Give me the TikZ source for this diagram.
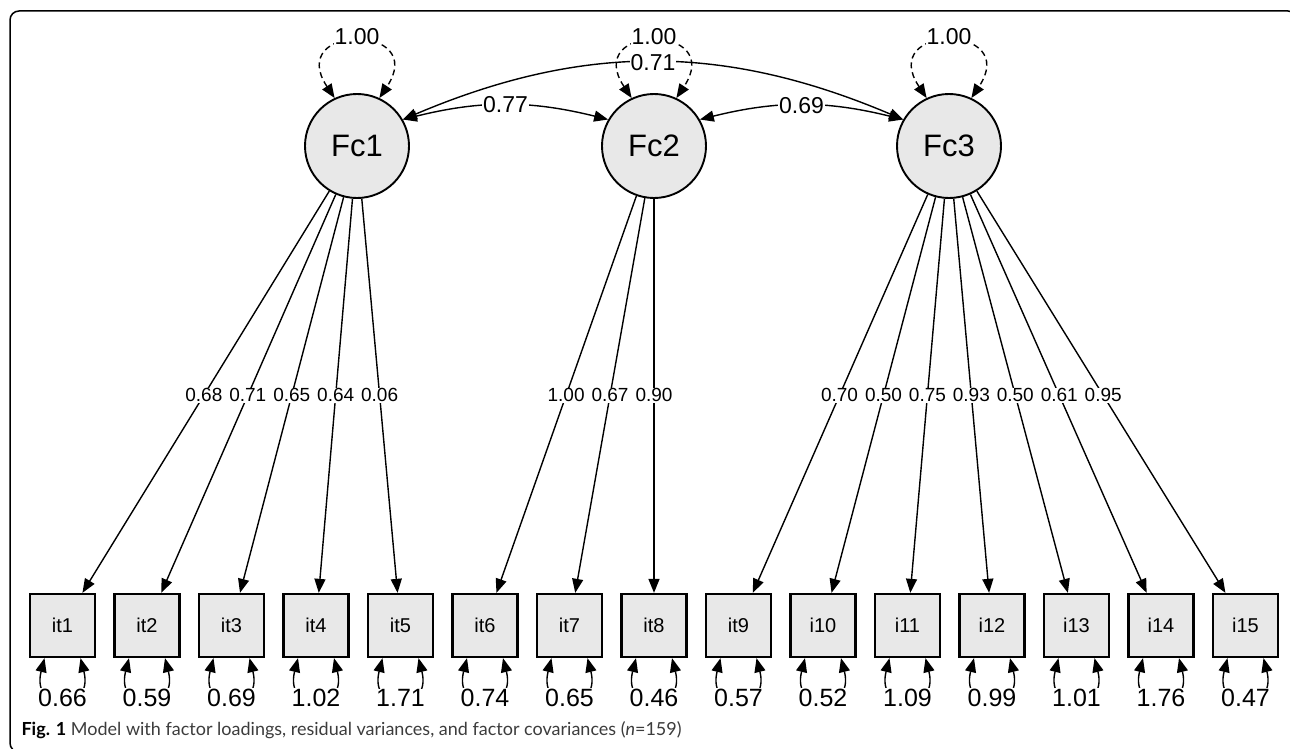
\documentclass[tikz,border=0pt]{standalone}
\usepackage{fontspec}
\setmainfont{Liberation Sans}
\newfontfamily\capfont{Lato}
\usetikzlibrary{arrows.meta,calc}
\definecolor{SemGris}{RGB}{232,232,232}
\definecolor{CapGris}{RGB}{60,60,60}
\tikzset{
	factor/.style={draw, circle, line width=1.9pt, fill=SemGris, minimum size=104pt, inner sep=0pt, font=\fontsize{31}{31}\selectfont},
	item/.style={draw, rectangle, line width=2.3pt, fill=SemGris, minimum width=65pt, minimum height=63pt, inner sep=0pt, font=\fontsize{20}{20}\selectfont},
	load/.style={line width=1.4pt, -{Triangle[length=14pt,width=11pt]}},
	cov/.style={line width=1.4pt, {Triangle[length=14pt,width=11pt]}-{Triangle[length=14pt,width=11pt]}},
	varloop/.style={cov, dash pattern=on 6pt off 4pt},
	resid/.style={cov},
	loadlab/.style={fill=white, inner sep=1pt, font=\fontsize{19}{19}\selectfont},
	covlab/.style={fill=white, inner sep=1pt, font=\fontsize{23}{23}\selectfont},
	reslab/.style={fill=white, inner sep=1pt, font=\fontsize{25}{25}\selectfont},
}

\begin{document}
\begin{tikzpicture}[x=1pt,y=1pt]
			\useasboundingbox (0,0) rectangle (1290,-749);
			\draw[line width=1.5pt, rounded corners=9pt] (10,-11) rectangle (1297,-752);
			% factors
			\draw (357,-146) node[factor] (Fc1) {Fc1};
			\draw (654,-146) node[factor] (Fc2) {Fc2};
			\draw (949,-146) node[factor] (Fc3) {Fc3};
			% items
			\foreach \lab [count=\i] in {it1,it2,it3,it4,it5,it6,it7,it8,it9,i10,i11,i12,i13,i14,i15}
				\draw ({62.5+84.5*(\i-1)},-625.5) node[item] (\lab) {\lab};
			% loadings
			\foreach \f/\t/\v in {Fc1/it1/0.68, Fc1/it2/0.71, Fc1/it3/0.65, Fc1/it4/0.64, Fc1/it5/0.06, Fc2/it6/1.00, Fc2/it7/0.67, Fc2/it8/0.90, Fc3/it9/0.70, Fc3/i10/0.50, Fc3/i11/0.75, Fc3/i12/0.93, Fc3/i13/0.50, Fc3/i14/0.61, Fc3/i15/0.95}
				\draw[load] (\f) -- (\t);
			\foreach \f/\t/\v in {Fc1/it1/0.68, Fc1/it2/0.71, Fc1/it3/0.65, Fc1/it4/0.64, Fc1/it5/0.06, Fc2/it6/1.00, Fc2/it7/0.67, Fc2/it8/0.90, Fc3/it9/0.70, Fc3/i10/0.50, Fc3/i11/0.75, Fc3/i12/0.93, Fc3/i13/0.50, Fc3/i14/0.61, Fc3/i15/0.95}
				\draw ($(\f)!0.52!(\t)$) node[loadlab] (l-\t) {\v};
			% residual variances
			\foreach \t/\v in {it1/0.66, it2/0.59, it3/0.69, it4/1.02, it5/1.71, it6/0.74, it7/0.65, it8/0.46, it9/0.57, i10/0.52, i11/1.09, i12/0.99, i13/1.01, i14/1.76, i15/0.47} {
				\draw[resid] ([xshift=-18pt]\t.south) .. controls +(-14,-55) and +(14,-55) .. ([xshift=18pt]\t.south);
				\draw ([yshift=-40pt]\t.south) node[reslab] (r-\t) {\v};
			}
			% factor variances
			\foreach \f in {Fc1,Fc2,Fc3} {
				\draw[varloop] (\f.115) .. controls +(-50,75) and +(50,75) .. (\f.65);
				\draw ([yshift=56pt]\f.north) node[covlab] (v-\f) {1.00};
			}
			% covariances
			\draw[cov] (Fc1.30) to[bend left=14] node[covlab] (c12) {0.77} (Fc2.150);
			\draw[cov] (Fc2.30) to[bend left=14] node[covlab] (c23) {0.69} (Fc3.150);
			\draw[cov] (Fc1.30) to[bend left=23] node[covlab] (c13) {0.71} (Fc3.150);
			\draw (18,-730) node[anchor=west, text=CapGris, font=\capfont\fontsize{18}{18}\selectfont] (caption) {{\color{black}\textbf{Fig. 1}} Model with factor loadings, residual variances, and factor covariances (\textit{n}=159)};
		\end{tikzpicture}
\end{document}
